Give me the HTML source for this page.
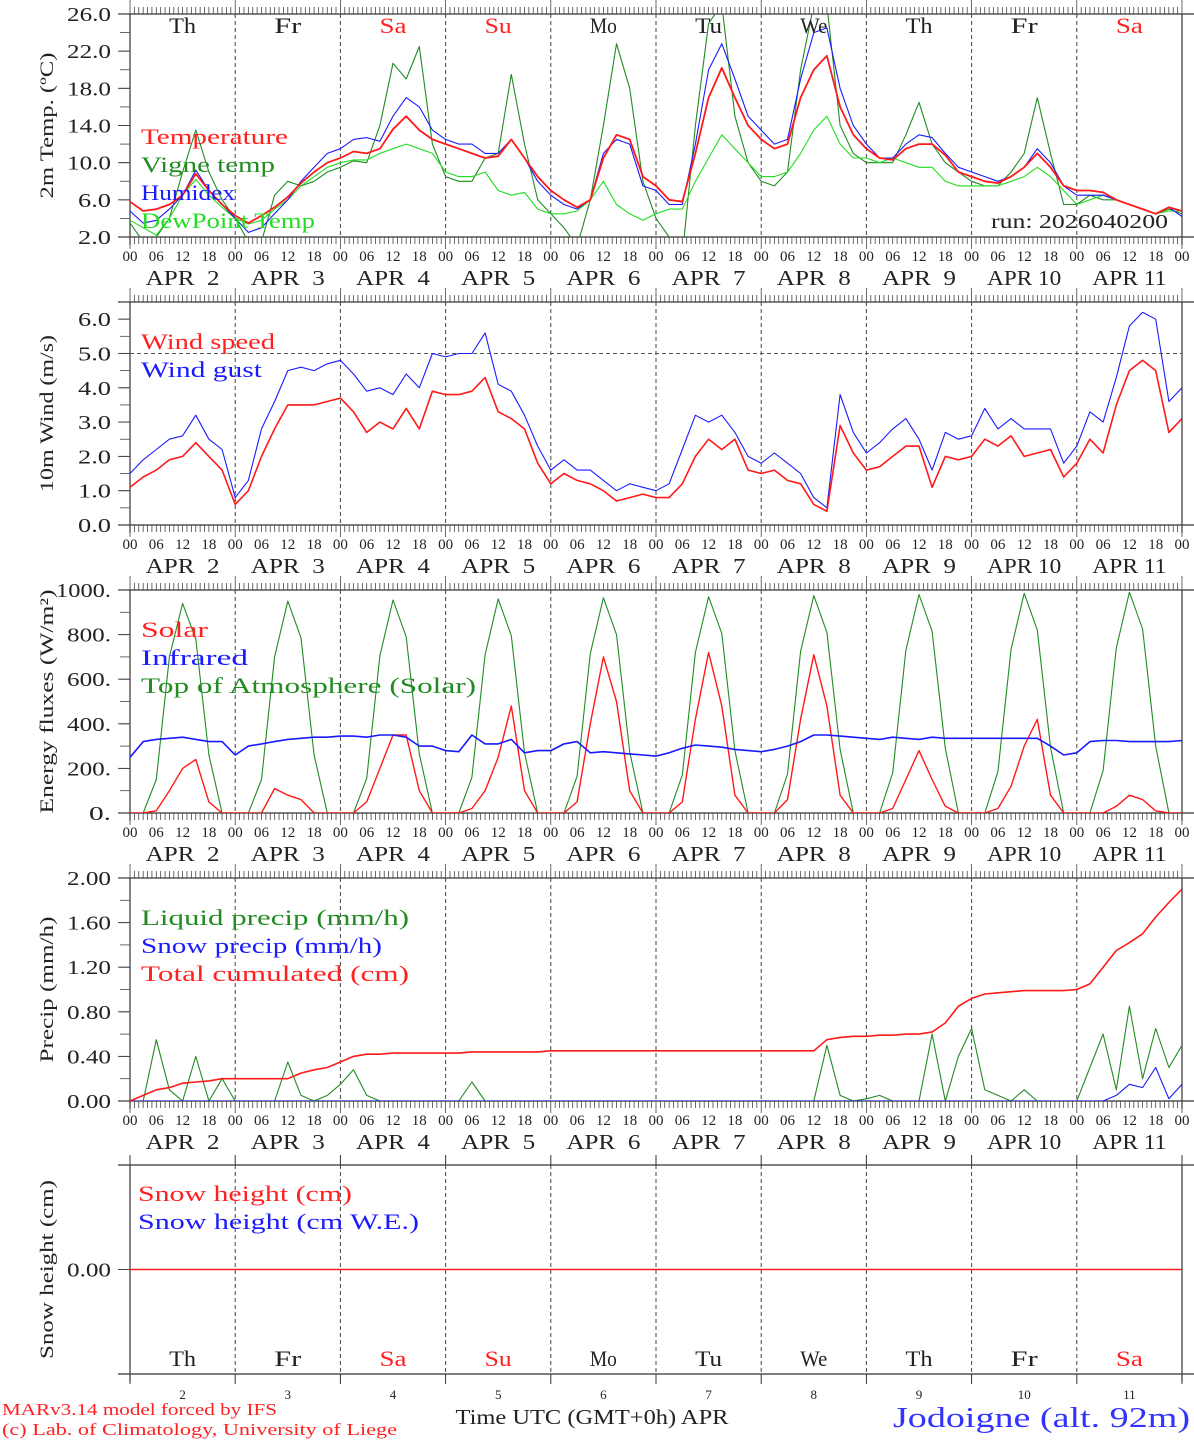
<!DOCTYPE html>
<html><head><meta charset="utf-8"><style>
body{margin:0;background:#fff;}
svg{display:block;font-family:"Liberation Serif",serif;}
</style></head><body>
<svg id="chart" width="1194" height="1440" viewBox="0 0 1194 1440" xmlns="http://www.w3.org/2000/svg"></svg>
<script>
// ---------- data (3-hourly, Apr 2 00UTC .. Apr 12 00UTC) ----------
const days = ["2","3","4","5","6","7","8","9","10","11"];
const dayNames = ["Th","Fr","Sa","Su","Mo","Tu","We","Th","Fr","Sa"];
const hourLabels = ["00","06","12","18"];
const tempTicks = [2,6,10,14,18,22,26];
const windTicks = [0,1,2,3,4,5,6];
const fluxTicks = [0,200,400,600,800,1000];
const precipTicks = [0,0.4,0.8,1.2,1.6,2.0];

const temperature = [5.8,4.8,5.0,5.5,6.5,8.8,7.0,5.5, 4.3,3.5,4.3,5.2,6.3,7.8,9.0,10.0, 10.5,11.2,11.0,11.5,13.6,15.0,13.5,12.5, 12.0,11.5,11.0,10.5,10.7,12.5,10.5,8.5, 7.0,6.0,5.2,6.0,10.5,13.0,12.5,8.5, 7.5,6.0,5.8,11,17,20.2,17,14, 12.5,11.5,12,17,20,21.5,16,13, 11.5,10.5,10.3,11.5,12.0,12.0,10.8,9.0, 8.5,8.0,7.8,8.5,9.5,11,9.5,7.5, 7.0,7.0,6.8,6.0,5.5,5.0,4.5,5.2, 4.8];
const vigne = [3.5,1.5,2,4,9,13.5,9,6, 4,1.5,1.5,6.5,8,7.5,8,9, 9.5,10.2,10,14,20.7,19,22.5,12, 8.5,8,8,10.5,11,19.5,12,6, 4.5,3,1,6,14,22.8,18,8, 4,2,0,14,25,27,15,10, 8,7.5,9,20,27,27,14,11, 10,10,10,13,16.5,12,10,9, 8,7.5,7.5,9,11,17,11,5.5, 5.5,6.5,6,6,5.5,5,4.5,5, 4.5];
const humidex = [4.8,3.5,3.8,5,6.5,9.2,7,5.5, 4,2.5,3,4.5,6,8,9.5,11, 11.5,12.5,12.7,12.3,15,17,16,13.5, 12.5,12,12,11,11,12.5,10.5,8, 6.5,5.5,5,6,11,12.5,12,7.5, 7,5.5,5.5,12,20,22.8,19,15, 13.5,12,12.5,19,24,24.5,18,14, 12,10.5,10.5,12,13,12.7,11,9.5, 9,8.5,8,8.5,9.5,11.5,10,7.5, 6.5,6.5,6.5,6,5.5,5,4.5,5.2, 4.2];
const dewpoint = [3.8,3,2.2,4,6.5,8.2,6.5,5.2, 4,3.4,3.8,5,6,7.5,8.5,9.5, 10,10.3,10.3,11,11.5,12,11.5,11, 9,8.5,8.5,9,7,6.5,6.8,5, 4.5,4.5,4.8,6,8,5.5,4.5,3.8, 4.5,5,5,8,10.5,13,11.5,10, 8.5,8.5,9,11,13.5,15,12,10.5, 10.5,10,10.5,10,9.5,9.5,8,7.5, 7.5,7.5,7.5,8,8.5,9.5,8.5,7, 5.5,6,6.5,6,5.5,5,4.5,4.8, 4.8];

const windSpeed = [1.1,1.4,1.6,1.9,2.0,2.4,2.0,1.6, 0.6,1.0,2.0,2.8,3.5,3.5,3.5,3.6, 3.7,3.3,2.7,3.0,2.8,3.4,2.8,3.9, 3.8,3.8,3.9,4.3,3.3,3.1,2.8,1.8, 1.2,1.5,1.3,1.2,1.0,0.7,0.8,0.9, 0.8,0.8,1.2,2.0,2.5,2.2,2.5,1.6, 1.5,1.6,1.3,1.2,0.6,0.4,2.9,2.1, 1.6,1.7,2.0,2.3,2.3,1.1,2.0,1.9, 2.0,2.5,2.3,2.6,2.0,2.1,2.2,1.4, 1.8,2.5,2.1,3.5,4.5,4.8,4.5,2.7, 3.1];
const windGust = [1.5,1.9,2.2,2.5,2.6,3.2,2.5,2.2, 0.8,1.3,2.8,3.6,4.5,4.6,4.5,4.7, 4.8,4.4,3.9,4.0,3.8,4.4,4.0,5.0, 4.9,5.0,5.0,5.6,4.1,3.9,3.2,2.3, 1.6,1.9,1.6,1.6,1.3,1.0,1.2,1.1, 1.0,1.2,2.2,3.2,3.0,3.2,2.7,2.0, 1.8,2.1,1.8,1.5,0.8,0.5,3.8,2.7, 2.1,2.4,2.8,3.1,2.5,1.6,2.7,2.5, 2.6,3.4,2.8,3.1,2.8,2.8,2.8,1.8, 2.3,3.3,3.0,4.3,5.8,6.2,6.0,3.6, 4.0];

const solar = [0,0,10,100,200,240,50,0, 0,0,0,110,80,60,0,0, 0,0,50,200,350,350,100,0, 0,0,20,100,250,480,100,0, 0,0,50,400,700,500,100,0, 0,0,50,420,720,480,80,0, 0,0,60,420,710,480,80,0, 0,0,20,150,280,150,30,0, 0,0,20,120,300,420,80,0, 0,0,0,30,80,60,10,0, 0];
const infrared = [250,320,330,335,340,330,320,320, 260,300,310,320,330,335,340,340, 345,345,340,350,350,340,300,300, 280,275,350,310,310,330,270,280, 280,310,320,270,275,270,265,260, 255,270,290,305,300,295,285,280, 275,285,300,320,350,350,345,340, 335,330,340,335,330,340,335,335, 335,335,335,335,335,335,300,260, 270,320,325,325,320,320,320,320, 325];
const toa = [0,0,150,700,940,780,260,0, 0,0,150,700,950,785,260,0, 0,0,155,705,955,790,265,0, 0,0,160,710,960,795,270,0, 0,0,165,715,965,800,275,0, 0,0,170,720,970,805,280,0, 0,0,175,725,975,810,285,0, 0,0,180,730,980,815,290,0, 0,0,185,735,985,820,295,0, 0,0,190,740,990,825,300,0, 0];

const liquid = [0,0,0.55,0.1,0,0.4,0,0.2, 0,0,0,0,0.35,0.05,0,0.05, 0.15,0.28,0.05,0,0,0,0,0, 0,0,0.17,0,0,0,0,0, 0,0,0,0,0,0,0,0, 0,0,0,0,0,0,0,0, 0,0,0,0,0,0.5,0.05,0, 0.02,0.05,0,0,0,0.6,0,0.4, 0.65,0.1,0.05,0,0.1,0,0,0, 0,0.3,0.6,0.1,0.85,0.2,0.65,0.3, 0.5];
const snowPrecip = [0,0,0,0,0,0,0,0, 0,0,0,0,0,0,0,0, 0,0,0,0,0,0,0,0, 0,0,0,0,0,0,0,0, 0,0,0,0,0,0,0,0, 0,0,0,0,0,0,0,0, 0,0,0,0,0,0,0,0, 0,0,0,0,0,0,0,0, 0,0,0,0,0,0,0,0, 0,0,0,0.05,0.15,0.12,0.3,0.02, 0.15];
const totalCum = [0,0.05,0.1,0.12,0.16,0.17,0.18,0.2, 0.2,0.2,0.2,0.2,0.2,0.25,0.28,0.3, 0.35,0.4,0.42,0.42,0.43,0.43,0.43,0.43, 0.43,0.43,0.44,0.44,0.44,0.44,0.44,0.44, 0.45,0.45,0.45,0.45,0.45,0.45,0.45,0.45, 0.45,0.45,0.45,0.45,0.45,0.45,0.45,0.45, 0.45,0.45,0.45,0.45,0.45,0.55,0.57,0.58, 0.58,0.59,0.59,0.6,0.6,0.62,0.7,0.85, 0.92,0.96,0.97,0.98,0.99,0.99,0.99,0.99, 1.0,1.05,1.2,1.35,1.42,1.5,1.65,1.78, 1.9];
const snowHeight = [0,0,0,0,0,0,0,0,0,0,0];

// ---------- drawing ----------
const svg = document.getElementById('chart');
const NS = 'http://www.w3.org/2000/svg';
const X0 = 130, X1 = 1182;
const CH = 13.4;
const xH = h => X0 + h / 240 * (X1 - X0);
function el(tag, attrs, parent) {
  const e = document.createElementNS(NS, tag);
  for (const k in attrs) e.setAttribute(k, attrs[k]);
  (parent || svg).appendChild(e);
  return e;
}
function txt(s, x, y, size, fill, anchor, parent) {
  const t = el('text', {x: x, y: y, 'font-size': size, fill: fill, 'text-anchor': anchor || 'start'}, parent);
  t.textContent = s;
  return t;
}
function fit(t, w) {
  t.setAttribute('textLength', String(w));
  t.setAttribute('lengthAdjust', 'spacingAndGlyphs');
}
function makePanel(name, top, bottom, vmin, vmax, ticks, fmt, minorStep, ylabel, showHours) {
  const g = el('g', {});
  
  
  const yV = v => bottom - (v - vmin) / (vmax - vmin) * (bottom - top);
  el('line', {x1: 118, y1: top, x2: 1194, y2: top, stroke: '#333', 'stroke-width': 1.2}, g);
  el('line', {x1: 118, y1: bottom, x2: 1194, y2: bottom, stroke: '#333', 'stroke-width': 1.2}, g);
  el('line', {x1: X0, y1: top, x2: X0, y2: bottom + 8, stroke: '#333', 'stroke-width': 1.2}, g);
  el('line', {x1: X1, y1: top, x2: X1, y2: bottom + 8, stroke: '#333', 'stroke-width': 1.2}, g);
  if (showHours) {
    for (let h = 0; h <= 240; h++) {
      const x = xH(h), major = h % 24 === 0;
      el('line', {x1: x, y1: top, x2: x, y2: top - (major ? 14 : 7), stroke: '#444', 'stroke-width': 0.8}, g);
      el('line', {x1: x, y1: bottom, x2: x, y2: bottom + (major ? 12 : 7), stroke: '#444', 'stroke-width': 0.8}, g);
    }
  }
  for (let d = 1; d < 10; d++) {
    el('line', {x1: xH(d * 24), y1: top, x2: xH(d * 24), y2: bottom, stroke: '#444', 'stroke-width': 1, 'stroke-dasharray': '4,3'}, g);
  }
  if (minorStep) {
    for (let v = vmin; v <= vmax + 1e-9; v += minorStep) {
      el('line', {x1: 120, y1: yV(v), x2: X0, y2: yV(v), stroke: '#444', 'stroke-width': 0.8}, g);
    }
  }
  ticks.forEach(v => {
    el('line', {x1: 118, y1: yV(v), x2: X0, y2: yV(v), stroke: '#444', 'stroke-width': 1}, g);
    const s = fmt(v);
    const t = txt(s, 111, yV(v) + 7, 20, '#222', 'end', g);
    fit(t, s.length * 11);
  });
  const lab = txt(ylabel, 0, 0, 19, '#222', 'middle', g);
  fit(lab, Math.round(ylabel.length * 11.2));
  lab.setAttribute('transform', 'translate(53,' + ((top + bottom) / 2) + ') rotate(-90)');
  if (showHours) {
    for (let d = 0; d <= 10; d++) {
      hourLabels.forEach((hl, i) => {
        if (d === 10 && i > 0) return;
        txt(hl, xH(d * 24 + i * 6), bottom + 24, 15, '#222', 'middle', g);
      });
    }
    days.forEach((dd, i) => {
      const t = txt('APR ' + (dd.length < 2 ? '\u00a0' : '') + dd, xH(i * 24 + 12), bottom + 48, 21, '#222', 'middle', g);
      fit(t, 74);
    });
  }
  const clipId = 'clip-' + name;
  const cp = el('clipPath', {id: clipId}, g);
  el('rect', {x: X0, y: top, width: X1 - X0, height: bottom - top}, cp);
  return {g, yV, clip: 'url(#' + clipId + ')'};
}
function series(panel, vals, color, width, name) {
  const pts = vals.map((v, i) => xH(i * 3).toFixed(1) + ',' + panel.yV(v).toFixed(1)).join(' ');
  const p = el('polyline', {points: pts, fill: 'none', stroke: color, 'stroke-width': width, 'clip-path': panel.clip, 'stroke-linejoin': 'round'}, panel.g);
  
  
  return p;
}
function legend(panel, items, x, y0, step) {
  items.forEach((it, i) => {
    const t = txt(it[0], x, y0 + i * step, 22, it[1], 'start', panel.g);
    fit(t, Math.round(it[0].length * CH));
    
    
  });
}
function dayLabel(panel, n, i, y) {
  const t = txt(n, xH(i * 24 + 12), y, 22, (n === 'Sa' || n === 'Su') ? '#ff2020' : '#222', 'middle', panel.g);
  fit(t, 27);
}

const p1 = makePanel('temperature-panel', 14, 237, 2, 26, tempTicks, v => v.toFixed(1), 2, '2m Temp. (\u00baC)', true);
series(p1, vigne, '#228b22', 1.1, 'vigne-temp-line');
series(p1, dewpoint, '#22dd22', 1.1, 'dewpoint-line');
series(p1, humidex, '#1a1aff', 1.1, 'humidex-line');
series(p1, temperature, '#ff1a1a', 1.8, 'temperature-line');
dayNames.forEach((n, i) => dayLabel(p1, n, i, 33));
legend(p1, [['Temperature', '#ff2020'], ['Vigne temp', '#228b22'], ['Humidex', '#1a1aff'], ['DewPoint Temp', '#22dd22']], 141, 144, 28);
const run = txt('run: 2026040200', 1168, 228, 20, '#222', 'end', p1.g);
fit(run, 177);

const p2 = makePanel('wind-panel', 302, 525, 0, 6.5, windTicks, v => v.toFixed(1), 0.5, '10m Wind (m/s)', true);
el('line', {x1: X0, y1: p2.yV(5), x2: X1, y2: p2.yV(5), stroke: '#555', 'stroke-width': 1, 'stroke-dasharray': '4,3'}, p2.g);
series(p2, windGust, '#1a1aff', 1.1, 'wind-gust-line');
series(p2, windSpeed, '#ff1a1a', 1.6, 'wind-speed-line');
legend(p2, [['Wind speed', '#ff2020'], ['Wind gust', '#1a1aff']], 141, 349, 28);

const p3 = makePanel('energy-panel', 590, 813, 0, 1000, fluxTicks, v => v.toFixed(0) + '.', 100, 'Energy fluxes (W/m\u00b2)', true);
series(p3, toa, '#228b22', 1.1, 'toa-solar-line');
series(p3, solar, '#ff1a1a', 1.4, 'solar-line');
series(p3, infrared, '#1a1aff', 1.6, 'infrared-line');
legend(p3, [['Solar', '#ff2020'], ['Infrared', '#1a1aff'], ['Top of Atmosphere (Solar)', '#228b22']], 141, 637, 28);

const p4 = makePanel('precip-panel', 878, 1101, 0, 2.0, precipTicks, v => v.toFixed(2), 0.2, 'Precip (mm/h)', true);
series(p4, liquid, '#228b22', 1.1, 'liquid-precip-line');
series(p4, snowPrecip, '#1a1aff', 1.1, 'snow-precip-line');
series(p4, totalCum, '#ff1a1a', 1.6, 'total-cumulated-line');
legend(p4, [['Liquid precip (mm/h)', '#228b22'], ['Snow precip (mm/h)', '#1a1aff'], ['Total cumulated (cm)', '#ff2020']], 141, 925, 28);

const p5 = makePanel('snow-panel', 1165, 1374, -1, 1, [0], v => v.toFixed(2), 0, 'Snow height (cm)', false);
for (let d = 0; d <= 10; d++) {
  el('line', {x1: xH(d * 24), y1: 1374, x2: xH(d * 24), y2: 1384, stroke: '#333', 'stroke-width': 1}, p5.g);
  el('line', {x1: xH(d * 24), y1: 1165, x2: xH(d * 24), y2: 1155, stroke: '#333', 'stroke-width': 1}, p5.g);
}
const snowPts = snowHeight.map((v, i) => xH(i * 24).toFixed(1) + ',' + p5.yV(v).toFixed(1)).join(' ');
const sl = el('polyline', {points: snowPts, fill: 'none', stroke: '#ff1a1a', 'stroke-width': 1.6}, p5.g);


dayNames.forEach((n, i) => dayLabel(p5, n, i, 1366));
days.forEach((d, i) => txt(d, xH(i * 24 + 12), 1399, 13, '#222', 'middle', p5.g));
legend(p5, [['Snow height (cm)', '#ff2020'], ['Snow height (cm W.E.)', '#1a1aff']], 138, 1201, 28);

const f1 = txt('MARv3.14 model forced by IFS', 2, 1415, 17, '#ff2020');
fit(f1, 275);


const f2 = txt('(c) Lab. of Climatology, University of Liege', 2, 1435, 17, '#ff2020');
fit(f2, 395);


const xt = txt('Time UTC (GMT+0h) APR', 592, 1424, 21, '#222', 'middle');
fit(xt, 273);


const loc = txt('Jodoigne (alt. 92m)', 1190, 1427, 29, '#3333ff', 'end');
fit(loc, 297);


</script>
</body></html>
